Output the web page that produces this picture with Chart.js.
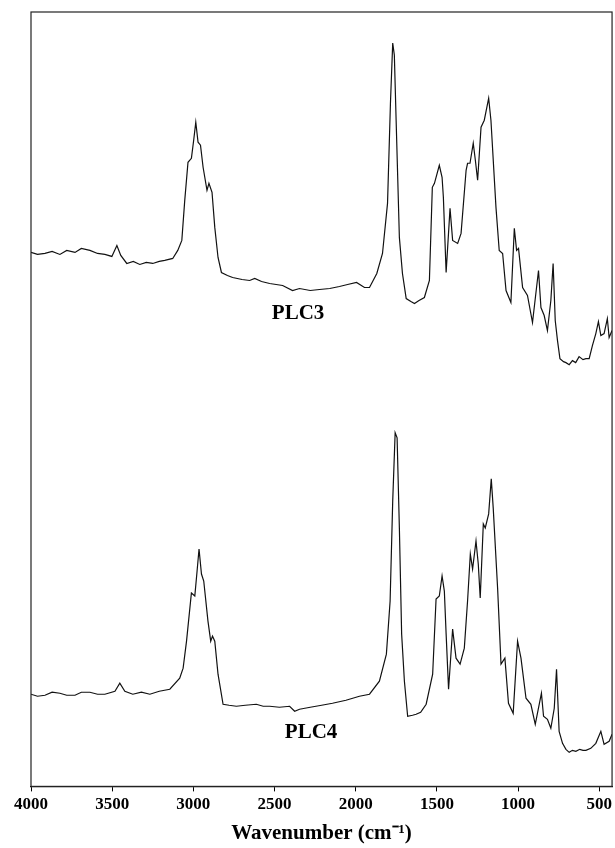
<!DOCTYPE html>
<html>
<head>
<meta charset="utf-8">
<script src="https://cdn.jsdelivr.net/npm/chart.js@4.4.1/dist/chart.umd.min.js"></script>
<style>
  html, body { margin: 0; padding: 0; background: #fff; }
  #wrap { width: 615px; height: 848px; position: relative; }
</style>
</head>
<body>
<div id="wrap"><canvas id="c"></canvas></div>
<script>
// Wavenumbers (cm-1) and intensities (arbitrary units)
const plc3Wavenumber = [4000,3960,3914,3870,3822,3780,3729,3690,3637,3590,3545,3502,3471,3447,3410,3370,3330,3290,3250,3210,3176,3127,3096,3071,3053,3033,3012,2998,2985,2971,2956,2940,2916,2904,2885,2868,2848,2827,2790,2758,2700,2653,2622,2580,2530,2490,2450,2389,2346,2280,2223,2160,2100,2050,1995,1946,1915,1870,1835,1804,1786,1772,1762,1751,1731,1712,1689,1660,1638,1610,1577,1546,1528,1515,1485,1468,1460,1443,1419,1403,1372,1351,1320,1311,1296,1276,1263,1249,1228,1208,1181,1167,1136,1116,1095,1074,1044,1023,1009,997,972,942,911,874,859,839,819,798,784,771,757,742,720,705,685,665,645,624,600,582,562,542,521,505,490,470,450,439,421];
const plc3Intensity  = [533,531,532,534,531,535,533,537,535,532,531,529,540,530,522,524,521,523,522,524,525,527,535,545,585,623,627,645,663,643,640,618,595,602,593,558,528,513,510,508,506,505,507,504,502,501,500,495,497,495,496,497,499,501,503,498,498,512,532,582,682,742,730,665,548,512,487,484,482,485,488,505,598,602,620,608,588,513,577,545,542,552,615,622,622,642,625,605,658,665,687,665,578,535,532,495,483,557,535,537,498,490,463,515,478,470,455,485,522,465,445,427,424,423,421,425,423,429,426,427,427,440,452,464,450,452,467,448,455];

const plc4Wavenumber = [4000,3960,3914,3870,3822,3780,3729,3690,3637,3590,3545,3483,3453,3422,3373,3320,3268,3210,3145,3084,3063,3042,3012,2991,2977,2965,2950,2936,2910,2893,2882,2868,2848,2817,2780,2735,2680,2612,2570,2530,2470,2407,2376,2346,2280,2210,2143,2060,1977,1915,1854,1811,1788,1772,1757,1745,1731,1717,1700,1680,1650,1628,1600,1566,1526,1505,1485,1468,1454,1443,1428,1403,1382,1357,1331,1311,1294,1280,1259,1245,1233,1214,1202,1181,1165,1153,1126,1105,1081,1059,1030,1003,982,951,921,894,856,843,819,798,777,763,747,726,705,685,665,644,620,600,582,552,521,490,470,439,421];
const plc4Intensity  = [92,90,91,94,93,91,91,94,94,92,92,95,103,95,92,94,92,95,97,108,118,145,193,190,215,237,212,205,165,145,150,145,112,82,81,80,81,82,80,80,79,80,75,77,79,81,83,86,90,92,105,132,185,285,353,348,258,152,105,70,71,72,74,82,112,187,190,210,195,152,97,157,128,122,138,185,232,217,245,222,188,262,258,272,307,278,198,122,128,83,73,145,128,88,82,62,93,70,67,58,78,117,55,43,37,34,36,35,37,36,36,38,43,55,42,45,52];

const xTickValues = [4000,3500,3000,2500,2000,1500,1000,500];
const seriesNames = ['PLC3','PLC4'];
// label anchor positions in data units (wavenumber, intensity)
const labelWavenumber = [2355, 2275];
const labelIntensity  = [472, 54];

const toPoints = (xs, ys) => xs.map((x, i) => ({x: x, y: ys[i]}));

const framePlugin = {
  id: 'frame',
  afterDraw(chart) {
    const {ctx, chartArea: a, scales} = chart;
    ctx.save();
    ctx.strokeStyle = '#222';
    ctx.lineWidth = 1.2;
    ctx.strokeRect(a.left, a.top, a.right - a.left, a.bottom - a.top);
    ctx.fillStyle = '#000';
    ctx.font = 'bold 21px "Liberation Serif", "Times New Roman", serif';
    ctx.textAlign = 'center';
    ctx.textBaseline = 'middle';
    seriesNames.forEach((n, i) => {
      ctx.fillText(n, scales.x.getPixelForValue(labelWavenumber[i]), scales.y.getPixelForValue(labelIntensity[i]));
    });
    ctx.restore();
  }
};

new Chart(document.getElementById('c'), {
  type: 'scatter',
  data: {
    datasets: [
      { label: seriesNames[0], data: toPoints(plc3Wavenumber, plc3Intensity) },
      { label: seriesNames[1], data: toPoints(plc4Wavenumber, plc4Intensity) }
    ].map(d => Object.assign(d, {
      showLine: true, pointRadius: 0, borderColor: '#111', borderWidth: 1.2,
      tension: 0, fill: false
    }))
  },
  options: {
    responsive: true,
    maintainAspectRatio: false,
    animation: false,
    layout: { padding: { left: 31, right: 1, top: 12, bottom: 1 } },
    plugins: { legend: { display: false }, tooltip: { enabled: false } },
    scales: {
      x: {
        type: 'linear',
        reverse: true,
        min: 421,
        max: 4000,
        afterBuildTicks(scale) { scale.ticks = xTickValues.map(v => ({value: v})); },
        grid: { drawOnChartArea: false, drawTicks: true, tickLength: 5, color: '#000', lineWidth: 1 },
        border: { display: true, color: '#000', width: 1.2 },
        ticks: {
          color: '#000', padding: 3, maxRotation: 0, autoSkip: false,
          callback: v => String(v),
          font: { family: '"Liberation Serif", "Times New Roman", serif', weight: 'bold', size: 17 }
        },
        title: {
          display: true, text: 'Wavenumber (cm\u207B\u00B9)', color: '#000',
          padding: { top: 3, bottom: 1 },
          font: { family: '"Liberation Serif", "Times New Roman", serif', weight: 'bold', size: 21 }
        }
      },
      y: {
        type: 'linear', min: 0, max: 773, display: false
      }
    }
  },
  plugins: [framePlugin]
});
</script>
</body>
</html>
